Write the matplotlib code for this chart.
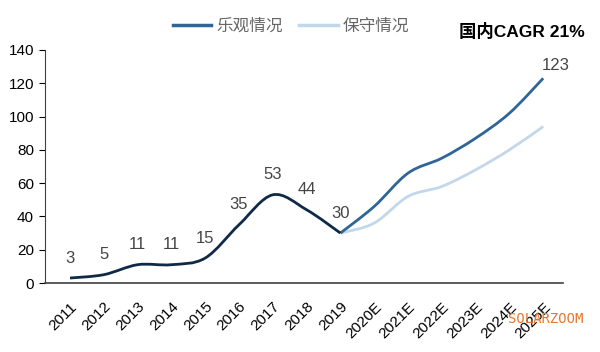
import numpy as np
import matplotlib
matplotlib.use("Agg")
import matplotlib.pyplot as plt
from matplotlib.path import Path
from matplotlib.patches import PathPatch
from matplotlib.lines import Line2D

plt.rcParams['font.family'] = ['Liberation Sans', 'Noto Sans CJK SC', 'DejaVu Sans']

years = ['2011', '2012', '2013', '2014', '2015', '2016', '2017', '2018', '2019',
         '2020E', '2021E', '2022E', '2023E', '2024E', '2025E']
history = [3, 5, 11, 11, 15, 35, 53, 44, 30]
optimistic = [30, 46, 66, 75, 87, 102, 123]
conservative = [30, 36, 52, 58, 68, 80, 94]
legend_names = ['乐观情况', '保守情况']
cagr_text = '国内CAGR 21%'

c_hist = '#0f2a47'
c_opt = '#2f6597'
c_con = '#c3d7ea'
c_text = '#454545'


def smooth_path(xs, ys, t=1 / 6):
    # Catmull-Rom style smoothing turned into cubic bezier segments
    xs = np.asarray(xs, float)
    ys = np.asarray(ys, float)
    n = len(xs)
    verts = [(xs[0], ys[0])]
    codes = [Path.MOVETO]
    for i in range(n - 1):
        p0 = i - 1 if i > 0 else i
        p3 = i + 2 if i + 2 < n else i + 1
        c1 = (xs[i] + (xs[i + 1] - xs[p0]) * t, ys[i] + (ys[i + 1] - ys[p0]) * t)
        c2 = (xs[i + 1] - (xs[p3] - xs[i]) * t, ys[i + 1] - (ys[p3] - ys[i]) * t)
        verts += [c1, c2, (xs[i + 1], ys[i + 1])]
        codes += [Path.CURVE4] * 3
    return Path(verts, codes)


fig = plt.figure(figsize=(6, 3.52), dpi=100)
ax = fig.add_axes([0.075, 0.196, 0.863, 0.662])

x_hist = np.arange(len(history))
x_fut = np.arange(len(history) - 1, len(years))

ax.add_patch(PathPatch(smooth_path(x_fut, conservative), fill=False, ec=c_con, lw=2))
ax.add_patch(PathPatch(smooth_path(x_fut, optimistic), fill=False, ec=c_opt, lw=2))
ax.add_patch(PathPatch(smooth_path(x_hist, history), fill=False, ec=c_hist, lw=2))

for xi, v in zip(x_hist, history):
    ax.annotate(str(v), (xi, v), xytext=(0, 9), textcoords='offset points',
                ha='center', va='bottom', fontsize=12, color=c_text)
ax.annotate(str(optimistic[-1]), (x_fut[-1], optimistic[-1]), xytext=(9, 4),
            textcoords='offset points', ha='center', va='bottom', fontsize=12, color=c_text)

ax.set_xlim(-0.74, 14.58)
ax.set_ylim(0, 140)
ax.set_yticks(range(0, 141, 20))
ax.set_xticks(range(len(years)))
ax.set_xticklabels(years, rotation=45, ha='right', rotation_mode='anchor')
ax.tick_params(axis='x', length=0, labelsize=11, pad=12)
ax.tick_params(axis='y', length=4, labelsize=11, direction='out', pad=4)
for s in ['top', 'right']:
    ax.spines[s].set_visible(False)
ax.spines['left'].set_color('#404040')
ax.spines['bottom'].set_color('#404040')
ax.spines['bottom'].set_linewidth(1.2)

handles = [Line2D([], [], color=c_opt, lw=2.5), Line2D([], [], color=c_con, lw=2.5)]
fig.legend(handles, legend_names, loc='center', bbox_to_anchor=(0.485, 0.927), ncol=2,
           frameon=False, fontsize=12, handlelength=2.3, columnspacing=1.0,
           handletextpad=0.3, labelcolor='#666666')

fig.text(0.975, 0.91, cagr_text, ha='right', va='center', fontsize=12.5, fontweight='bold')
fig.text(0.972, 0.095, 'SOLARZOOM', ha='right', va='center', fontsize=10,
         color='#e8762d', family='DejaVu Sans Mono')

fig.savefig('out.png', dpi=100, facecolor='white')
